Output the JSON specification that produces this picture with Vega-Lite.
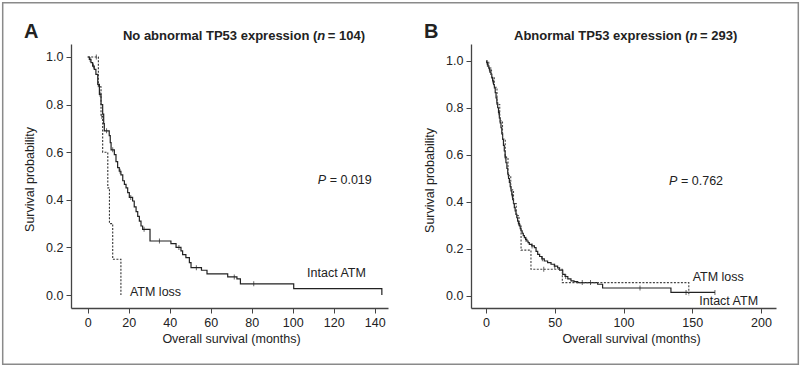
{
  "$schema": "https://vega.github.io/schema/vega-lite/v6.json",
  "background": "white",
  "padding": {"left": 1, "top": 1, "right": 0, "bottom": 0},
  "datasets": {
    "km": [
      {"p":"A","g":"intact","m":0,"s":1.0},{"p":"A","g":"intact","m":0.8,"s":0.99},{"p":"A","g":"intact","m":1.6,"s":0.976},{"p":"A","g":"intact","m":2.4,"s":0.962},{"p":"A","g":"intact","m":3.2,"s":0.948},{"p":"A","g":"intact","m":4.0,"s":0.927},{"p":"A","g":"intact","m":4.9,"s":0.885},{"p":"A","g":"intact","m":5.7,"s":0.843},{"p":"A","g":"intact","m":6.5,"s":0.80},{"p":"A","g":"intact","m":7.3,"s":0.76},{"p":"A","g":"intact","m":7.8,"s":0.72},{"p":"A","g":"intact","m":8.1,"s":0.69},{"p":"A","g":"intact","m":10.5,"s":0.67},{"p":"A","g":"intact","m":11.0,"s":0.64},{"p":"A","g":"intact","m":11.4,"s":0.61},{"p":"A","g":"intact","m":13.0,"s":0.59},{"p":"A","g":"intact","m":13.8,"s":0.56},{"p":"A","g":"intact","m":14.6,"s":0.535},{"p":"A","g":"intact","m":15.4,"s":0.52},{"p":"A","g":"intact","m":16.2,"s":0.505},{"p":"A","g":"intact","m":17.1,"s":0.48},{"p":"A","g":"intact","m":17.9,"s":0.465},{"p":"A","g":"intact","m":18.7,"s":0.45},{"p":"A","g":"intact","m":19.5,"s":0.43},{"p":"A","g":"intact","m":20.3,"s":0.41},{"p":"A","g":"intact","m":21.9,"s":0.395},{"p":"A","g":"intact","m":22.7,"s":0.37},{"p":"A","g":"intact","m":23.6,"s":0.35},{"p":"A","g":"intact","m":24.4,"s":0.33},{"p":"A","g":"intact","m":25.2,"s":0.31},{"p":"A","g":"intact","m":26.0,"s":0.29},{"p":"A","g":"intact","m":26.8,"s":0.276},{"p":"A","g":"intact","m":30.4,"s":0.227},{"p":"A","g":"intact","m":40.6,"s":0.216},{"p":"A","g":"intact","m":43.1,"s":0.2},{"p":"A","g":"intact","m":45.5,"s":0.185},{"p":"A","g":"intact","m":46.3,"s":0.17},{"p":"A","g":"intact","m":47.9,"s":0.157},{"p":"A","g":"intact","m":49.6,"s":0.136},{"p":"A","g":"intact","m":50.4,"s":0.115},{"p":"A","g":"intact","m":55.5,"s":0.104},{"p":"A","g":"intact","m":58.2,"s":0.089},{"p":"A","g":"intact","m":68.3,"s":0.076},{"p":"A","g":"intact","m":72.8,"s":0.068},{"p":"A","g":"intact","m":74.5,"s":0.047},{"p":"A","g":"intact","m":100.5,"s":0.027},{"p":"A","g":"intact","m":143.5,"s":0.0},
      {"p":"A","g":"loss","m":0,"s":1.0},{"p":"A","g":"loss","m":5.2,"s":0.875},{"p":"A","g":"loss","m":6.5,"s":0.75},{"p":"A","g":"loss","m":7.3,"s":0.6},{"p":"A","g":"loss","m":9.8,"s":0.45},{"p":"A","g":"loss","m":10.6,"s":0.3},{"p":"A","g":"loss","m":12.2,"s":0.15},{"p":"A","g":"loss","m":16.2,"s":0.0},
      {"p":"B","g":"intact","m":0,"s":1.0},{"p":"B","g":"intact","m":0.5,"s":0.993},{"p":"B","g":"intact","m":1,"s":0.986},{"p":"B","g":"intact","m":1.5,"s":0.978},{"p":"B","g":"intact","m":2,"s":0.97},{"p":"B","g":"intact","m":2.5,"s":0.962},{"p":"B","g":"intact","m":3,"s":0.952},{"p":"B","g":"intact","m":3.6,"s":0.943},{"p":"B","g":"intact","m":4.2,"s":0.93},{"p":"B","g":"intact","m":4.8,"s":0.915},{"p":"B","g":"intact","m":5.5,"s":0.9},{"p":"B","g":"intact","m":6.1,"s":0.886},{"p":"B","g":"intact","m":6.7,"s":0.865},{"p":"B","g":"intact","m":7.3,"s":0.843},{"p":"B","g":"intact","m":7.9,"s":0.822},{"p":"B","g":"intact","m":8.5,"s":0.801},{"p":"B","g":"intact","m":9.1,"s":0.78},{"p":"B","g":"intact","m":9.7,"s":0.758},{"p":"B","g":"intact","m":10.3,"s":0.737},{"p":"B","g":"intact","m":10.9,"s":0.716},{"p":"B","g":"intact","m":11.5,"s":0.69},{"p":"B","g":"intact","m":12.1,"s":0.666},{"p":"B","g":"intact","m":12.7,"s":0.641},{"p":"B","g":"intact","m":13.3,"s":0.617},{"p":"B","g":"intact","m":13.9,"s":0.592},{"p":"B","g":"intact","m":14.5,"s":0.567},{"p":"B","g":"intact","m":15.2,"s":0.543},{"p":"B","g":"intact","m":15.8,"s":0.518},{"p":"B","g":"intact","m":16.4,"s":0.5},{"p":"B","g":"intact","m":17,"s":0.483},{"p":"B","g":"intact","m":17.6,"s":0.465},{"p":"B","g":"intact","m":18.2,"s":0.447},{"p":"B","g":"intact","m":18.8,"s":0.43},{"p":"B","g":"intact","m":19.4,"s":0.41},{"p":"B","g":"intact","m":20,"s":0.393},{"p":"B","g":"intact","m":20.6,"s":0.376},{"p":"B","g":"intact","m":21.2,"s":0.362},{"p":"B","g":"intact","m":21.8,"s":0.347},{"p":"B","g":"intact","m":22.4,"s":0.333},{"p":"B","g":"intact","m":23,"s":0.319},{"p":"B","g":"intact","m":23.6,"s":0.308},{"p":"B","g":"intact","m":24.3,"s":0.298},{"p":"B","g":"intact","m":24.9,"s":0.287},{"p":"B","g":"intact","m":25.5,"s":0.277},{"p":"B","g":"intact","m":26.3,"s":0.267},{"p":"B","g":"intact","m":27.1,"s":0.257},{"p":"B","g":"intact","m":27.9,"s":0.248},{"p":"B","g":"intact","m":28.8,"s":0.241},{"p":"B","g":"intact","m":29.7,"s":0.234},{"p":"B","g":"intact","m":30.6,"s":0.227},{"p":"B","g":"intact","m":31.5,"s":0.22},{"p":"B","g":"intact","m":33.3,"s":0.213},{"p":"B","g":"intact","m":35.2,"s":0.206},{"p":"B","g":"intact","m":36.4,"s":0.19},{"p":"B","g":"intact","m":37.6,"s":0.177},{"p":"B","g":"intact","m":39,"s":0.168},{"p":"B","g":"intact","m":40.6,"s":0.158},{"p":"B","g":"intact","m":42.4,"s":0.149},{"p":"B","g":"intact","m":44.8,"s":0.142},{"p":"B","g":"intact","m":47.3,"s":0.135},{"p":"B","g":"intact","m":49.7,"s":0.127},{"p":"B","g":"intact","m":52.1,"s":0.12},{"p":"B","g":"intact","m":53.5,"s":0.11},{"p":"B","g":"intact","m":55.8,"s":0.092},{"p":"B","g":"intact","m":57.5,"s":0.083},{"p":"B","g":"intact","m":59.5,"s":0.073},{"p":"B","g":"intact","m":61.8,"s":0.064},{"p":"B","g":"intact","m":64,"s":0.061},{"p":"B","g":"intact","m":66.7,"s":0.057},{"p":"B","g":"intact","m":81.2,"s":0.05},{"p":"B","g":"intact","m":84.8,"s":0.034},{"p":"B","g":"intact","m":134.5,"s":0.015},{"p":"B","g":"intact","m":166.5,"s":0.015},
      {"p":"B","g":"loss","m":0,"s":1.0},{"p":"B","g":"loss","m":2,"s":0.97},{"p":"B","g":"loss","m":4,"s":0.928},{"p":"B","g":"loss","m":6,"s":0.888},{"p":"B","g":"loss","m":8,"s":0.815},{"p":"B","g":"loss","m":10,"s":0.745},{"p":"B","g":"loss","m":12,"s":0.668},{"p":"B","g":"loss","m":14,"s":0.59},{"p":"B","g":"loss","m":16,"s":0.512},{"p":"B","g":"loss","m":18,"s":0.452},{"p":"B","g":"loss","m":20,"s":0.393},{"p":"B","g":"loss","m":22,"s":0.342},{"p":"B","g":"loss","m":24,"s":0.305},{"p":"B","g":"loss","m":25.5,"s":0.195},{"p":"B","g":"loss","m":32.7,"s":0.114},{"p":"B","g":"loss","m":55.5,"s":0.057},{"p":"B","g":"loss","m":147.5,"s":0.0}
    ],
    "cens": [
      {"p":"A","g":"intact","m":1.2,"s":0.99},{"p":"A","g":"intact","m":2.8,"s":0.962},{"p":"A","g":"intact","m":6.0,"s":0.843},{"p":"A","g":"intact","m":9.2,"s":0.69},{"p":"A","g":"intact","m":12.2,"s":0.61},{"p":"A","g":"intact","m":15.8,"s":0.52},{"p":"A","g":"intact","m":21.0,"s":0.41},{"p":"A","g":"intact","m":27.5,"s":0.276},{"p":"A","g":"intact","m":35,"s":0.227},{"p":"A","g":"intact","m":44.5,"s":0.2},{"p":"A","g":"intact","m":53,"s":0.115},{"p":"A","g":"intact","m":71.5,"s":0.076},{"p":"A","g":"intact","m":81,"s":0.047},
      {"p":"A","g":"loss","m":4.2,"s":1.0},{"p":"A","g":"loss","m":6.9,"s":0.75},
      {"p":"B","g":"intact","m":1,"s":0.986},{"p":"B","g":"intact","m":2.7,"s":0.962},{"p":"B","g":"intact","m":5,"s":0.915},{"p":"B","g":"intact","m":9.4,"s":0.78},{"p":"B","g":"intact","m":14,"s":0.592},{"p":"B","g":"intact","m":19,"s":0.43},{"p":"B","g":"intact","m":24,"s":0.308},{"p":"B","g":"intact","m":29,"s":0.241},{"p":"B","g":"intact","m":33.5,"s":0.213},{"p":"B","g":"intact","m":41,"s":0.158},{"p":"B","g":"intact","m":50,"s":0.127},{"p":"B","g":"intact","m":58,"s":0.083},{"p":"B","g":"intact","m":70,"s":0.057},{"p":"B","g":"intact","m":76,"s":0.057},{"p":"B","g":"intact","m":112,"s":0.034},{"p":"B","g":"intact","m":145.5,"s":0.015},{"p":"B","g":"intact","m":166.5,"s":0.015},
      {"p":"B","g":"loss","m":42,"s":0.114}
    ]
  },
  "bounds": "flush",
  "spacing": 83,
  "hconcat": [
    {
      "width": 317,
      "height": 264,
      "layer": [
        {"data": {"values": [{}]}, "mark": {"type": "rect", "fill": "white", "fillOpacity": 0, "stroke": "#8a8a8a", "strokeWidth": 1.5},
         "encoding": {"x": {"datum": -41.47, "type": "quantitative", "scale": {"domain": [-8.15, 146.5], "nice": false, "zero": false}}, "x2": {"datum": 346.67},
                      "y": {"datum": 1.2281, "type": "quantitative", "scale": {"domain": [-0.0546, 1.0546], "nice": false, "zero": false}}, "y2": {"datum": -0.2912}}},
        {
          "data": {"name": "km"},
          "transform": [{"filter": "datum.p === 'A' && datum.g === 'intact'"}],
          "mark": {"type": "line", "interpolate": "step-after", "color": "#222", "strokeWidth": 1.2},
          "encoding": {
            "x": {"field": "m", "type": "quantitative", "scale": {"domain": [-8.15, 146.5], "nice": false, "zero": false},
                  "axis": {"values": [0, 20, 40, 60, 80, 100, 120, 140], "title": "Overall survival (months)", "titleX": 160}},
            "y": {"field": "s", "type": "quantitative", "scale": {"domain": [-0.0546, 1.0546], "nice": false, "zero": false},
                  "axis": {"values": [0, 0.2, 0.4, 0.6, 0.8, 1], "format": ".1f", "title": "Survival probability", "titleY": 135}}
          }
        },
        {
          "data": {"name": "km"},
          "transform": [{"filter": "datum.p === 'A' && datum.g === 'loss'"}],
          "mark": {"type": "line", "interpolate": "step-after", "color": "#333", "strokeWidth": 1.1, "strokeDash": [2, 1.5]},
          "encoding": {"x": {"field": "m", "type": "quantitative"}, "y": {"field": "s", "type": "quantitative"}}
        },
        {
          "data": {"name": "cens"},
          "transform": [{"filter": "datum.p === 'A'"}],
          "mark": {"type": "tick", "orient": "vertical", "size": 5, "thickness": 1, "color": "#222"},
          "encoding": {"x": {"field": "m", "type": "quantitative"}, "y": {"field": "s", "type": "quantitative"}}
        },
        {"data": {"values": [{}]}, "mark": {"type": "text", "text": "A", "align": "left", "baseline": "alphabetic", "fontSize": 20, "fontWeight": "bold"},
         "encoding": {"x": {"datum": -31.1}, "y": {"datum": 1.08}}},
        {"data": {"values": [{}]}, "mark": {"type": "text", "text": "No abnormal TP53 expression (", "align": "right", "baseline": "alphabetic", "fontSize": 13, "fontWeight": "bold"},
         "encoding": {"x": {"datum": 112.0}, "y": {"datum": 1.07}}},
        {"data": {"values": [{}]}, "mark": {"type": "text", "text": "n", "align": "left", "baseline": "alphabetic", "fontSize": 13, "fontWeight": "bold", "fontStyle": "italic"},
         "encoding": {"x": {"datum": 112.0}, "y": {"datum": 1.07}}},
        {"data": {"values": [{}]}, "mark": {"type": "text", "text": "= 104)", "align": "left", "baseline": "alphabetic", "fontSize": 13, "fontWeight": "bold", "dx": 10.5},
         "encoding": {"x": {"datum": 112.0}, "y": {"datum": 1.07}}},
        {"data": {"values": [{}]}, "mark": {"type": "text", "text": "P", "align": "left", "baseline": "alphabetic", "fontSize": 12.5, "fontStyle": "italic"},
         "encoding": {"x": {"datum": 112.2}, "y": {"datum": 0.465}}},
        {"data": {"values": [{}]}, "mark": {"type": "text", "text": "= 0.019", "align": "left", "baseline": "alphabetic", "fontSize": 12.5, "dx": 12},
         "encoding": {"x": {"datum": 112.2}, "y": {"datum": 0.465}}},
        {"data": {"values": [{}]}, "mark": {"type": "text", "text": "Intact ATM", "align": "left", "baseline": "alphabetic", "fontSize": 12.5},
         "encoding": {"x": {"datum": 107}, "y": {"datum": 0.0756}}},
        {"data": {"values": [{}]}, "mark": {"type": "text", "text": "ATM loss", "align": "left", "baseline": "alphabetic", "fontSize": 12.5},
         "encoding": {"x": {"datum": 20.6}, "y": {"datum": -0.004}}}
      ]
    },
    {
      "width": 305,
      "height": 264,
      "layer": [
        {
          "data": {"name": "km"},
          "transform": [{"filter": "datum.p === 'B' && datum.g === 'intact'"}],
          "mark": {"type": "line", "interpolate": "step-after", "color": "#222", "strokeWidth": 1.2},
          "encoding": {
            "x": {"field": "m", "type": "quantitative", "scale": {"domain": [-10.91, 210.91], "nice": false, "zero": false},
                  "axis": {"values": [0, 50, 100, 150, 200], "title": "Overall survival (months)", "titleX": 160}},
            "y": {"field": "s", "type": "quantitative", "scale": {"domain": [-0.0511, 1.0723], "nice": false, "zero": false},
                  "axis": {"values": [0, 0.2, 0.4, 0.6, 0.8, 1], "format": ".1f", "title": "Survival probability", "titleY": 136}}
          }
        },
        {
          "data": {"name": "km"},
          "transform": [{"filter": "datum.p === 'B' && datum.g === 'loss'"}],
          "mark": {"type": "line", "interpolate": "step-after", "color": "#444", "strokeWidth": 1.1, "strokeDash": [2, 1.5]},
          "encoding": {"x": {"field": "m", "type": "quantitative"}, "y": {"field": "s", "type": "quantitative"}}
        },
        {
          "data": {"name": "cens"},
          "transform": [{"filter": "datum.p === 'B'"}],
          "mark": {"type": "tick", "orient": "vertical", "size": 5, "thickness": 1, "color": "#222"},
          "encoding": {"x": {"field": "m", "type": "quantitative"}, "y": {"field": "s", "type": "quantitative"}}
        },
        {"data": {"values": [{}]}, "mark": {"type": "text", "text": "B", "align": "left", "baseline": "alphabetic", "fontSize": 20, "fontWeight": "bold"},
         "encoding": {"x": {"datum": -45.09}, "y": {"datum": 1.0978}}},
        {"data": {"values": [{}]}, "mark": {"type": "text", "text": "Abnormal TP53 expression (", "align": "right", "baseline": "alphabetic", "fontSize": 13, "fontWeight": "bold"},
         "encoding": {"x": {"datum": 148.07}, "y": {"datum": 1.088}}},
        {"data": {"values": [{}]}, "mark": {"type": "text", "text": "n", "align": "left", "baseline": "alphabetic", "fontSize": 13, "fontWeight": "bold", "fontStyle": "italic"},
         "encoding": {"x": {"datum": 148.07}, "y": {"datum": 1.088}}},
        {"data": {"values": [{}]}, "mark": {"type": "text", "text": "= 293)", "align": "left", "baseline": "alphabetic", "fontSize": 13, "fontWeight": "bold", "dx": 10.5},
         "encoding": {"x": {"datum": 148.07}, "y": {"datum": 1.088}}},
        {"data": {"values": [{}]}, "mark": {"type": "text", "text": "P", "align": "left", "baseline": "alphabetic", "fontSize": 12.5, "fontStyle": "italic"},
         "encoding": {"x": {"datum": 133.09}, "y": {"datum": 0.4744}}},
        {"data": {"values": [{}]}, "mark": {"type": "text", "text": "= 0.762", "align": "left", "baseline": "alphabetic", "fontSize": 12.5, "dx": 12},
         "encoding": {"x": {"datum": 133.09}, "y": {"datum": 0.4744}}},
        {"data": {"values": [{}]}, "mark": {"type": "text", "text": "ATM loss", "align": "left", "baseline": "alphabetic", "fontSize": 12.5},
         "encoding": {"x": {"datum": 150.3}, "y": {"datum": 0.0617}}},
        {"data": {"values": [{}]}, "mark": {"type": "text", "text": "Intact ATM", "align": "left", "baseline": "alphabetic", "fontSize": 12.5},
         "encoding": {"x": {"datum": 155.1}, "y": {"datum": -0.0383}}}
      ]
    }
  ],
  "config": {
    "view": {"stroke": null},
    "font": "Liberation Sans",
    "text": {"font": "Liberation Sans", "color": "#222"},
    "axis": {
      "grid": false,
      "domainColor": "#444",
      "domainWidth": 1.3,
      "tickColor": "#444",
      "tickSize": 5,
      "labelPadding": 3,
      "labelFont": "Liberation Sans",
      "labelFontSize": 12.5,
      "labelColor": "#222",
      "titleFont": "Liberation Sans",
      "titleFontSize": 12.5,
      "titleFontWeight": "normal",
      "titleColor": "#222",
      "titlePadding": 9
    },
    "axisX": {"titlePadding": 4}
  }
}
